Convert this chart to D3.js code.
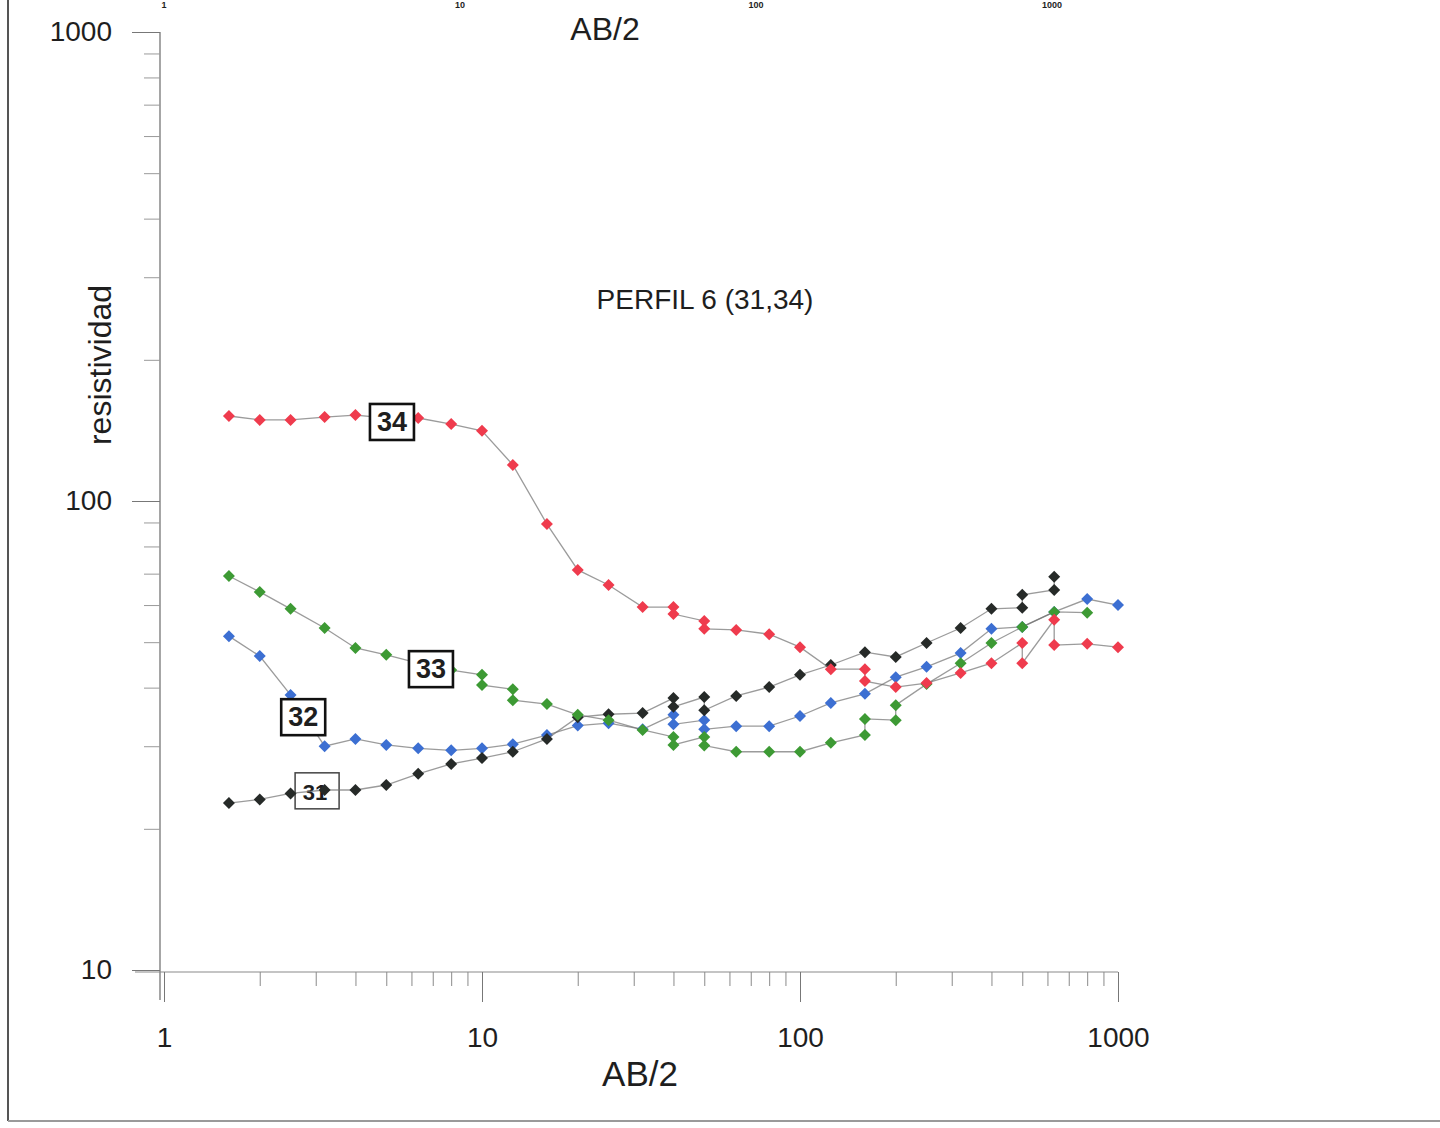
<!DOCTYPE html>
<html>
<head>
<meta charset="utf-8">
<script src="https://cdn.jsdelivr.net/npm/d3@7"></script>
<style>
  body { margin: 0; background: #fff; }
  svg text { font-family: "Liberation Sans", Arial, sans-serif; fill: #1e1e1e; }
</style>
</head>
<body>
<svg id="chart" width="1440" height="1128"></svg>
<script>
// AB/2 positions used by each sounding (duplicates = overlap readings)
const ab31 = [1.6, 2, 2.5, 3.2, 4, 5, 6.3, 8, 10, 12.5, 16, 20, 25, 32, 40, 40, 50, 50, 63, 80, 100, 125, 160, 200, 250, 320, 400, 500, 500, 630, 630];
const rho31 = [22.7, 23.1, 23.8, 24.2, 24.2, 24.8, 26.2, 27.5, 28.3, 29.2, 31.1, 34.6, 35.1, 35.3, 38.0, 36.4, 38.2, 35.8, 38.4, 40.1, 42.6, 44.7, 47.6, 46.5, 49.8, 53.6, 58.9, 59.2, 63.1, 64.6, 68.9];

const ab32 = [1.6, 2, 2.5, 3.2, 4, 5, 6.3, 8, 10, 12.5, 16, 20, 25, 32, 40, 40, 50, 50, 63, 80, 100, 125, 160, 200, 250, 320, 400, 500, 630, 800, 1000];
const rho32 = [51.5, 46.7, 38.6, 30.0, 31.1, 30.2, 29.7, 29.4, 29.7, 30.3, 31.7, 33.2, 33.6, 32.6, 35.0, 33.4, 34.1, 32.6, 33.1, 33.1, 34.8, 37.1, 38.8, 42.1, 44.3, 47.4, 53.4, 53.9, 58.0, 61.8, 60.0];

const ab33 = [1.6, 2, 2.5, 3.2, 4, 5, 6.3, 8, 10, 10, 12.5, 12.5, 16, 20, 25, 32, 40, 40, 50, 50, 63, 80, 100, 125, 160, 160, 200, 200, 250, 320, 400, 500, 630, 800];
const rho33 = [69.2, 64.0, 58.9, 53.6, 48.6, 47.0, 45.1, 43.6, 42.6, 40.5, 39.7, 37.6, 36.9, 35.0, 34.1, 32.5, 31.4, 30.2, 31.4, 30.1, 29.2, 29.2, 29.2, 30.5, 31.7, 34.3, 34.1, 36.7, 40.7, 45.1, 49.8, 53.9, 58.0, 57.8];

const ab34 = [1.6, 2, 2.5, 3.2, 4, 5, 6.3, 8, 10, 12.5, 16, 20, 25, 32, 40, 40, 50, 50, 63, 80, 100, 125, 160, 160, 200, 250, 320, 400, 500, 500, 630, 630, 800, 1000];
const rho34 = [151.8, 148.9, 148.9, 151.0, 152.5, 150.3, 150.3, 145.9, 141.1, 119.4, 89.3, 71.3, 66.2, 59.4, 59.4, 57.4, 55.5, 53.4, 53.1, 52.0, 48.8, 43.8, 43.8, 41.3, 40.1, 40.9, 43.0, 45.1, 49.8, 45.1, 55.8, 49.3, 49.6, 48.8];

const seriesNames = ["32", "31", "33", "34"];
const seriesColors = { "31": "#262a28", "32": "#3c6fd2", "33": "#3d9a34", "34": "#ef3b4d" };

// label boxes anchored in data coordinates (AB/2, resistividad)
const labelNames = ["34", "33", "32", "31"];
const labelAb = [5.21, 6.91, 2.74, 3.03];
const labelRho = [147.4, 43.8, 34.6, 24.1];

const xMajor = [1, 10, 100, 1000];
const yMajor = [10, 100, 1000];

const svg = d3.select("#chart");

const x = d3.scaleLog().domain([1, 1000]).range([164, 1118]);
const y = d3.scaleLog().domain([10, 1000]).range([970, 32]);

const minorOf = ext => {
  const out = [];
  for (let d = ext[0]; d < ext[1]; d *= 10)
    for (let k = 2; k <= 9; k++) out.push(d * k);
  return out;
};

// scan frame
svg.append("line").attr("x1", 8).attr("x2", 8).attr("y1", 0).attr("y2", 1121)
  .attr("stroke", "#555").attr("stroke-width", 2);
svg.append("line").attr("x1", 8).attr("x2", 1440).attr("y1", 1121).attr("y2", 1121)
  .attr("stroke", "#9a9a9a").attr("stroke-width", 2);

// ghost top axis (mostly cut off by the scan)
svg.append("g").selectAll("text").data(xMajor).join("text")
  .attr("x", (d, i) => 164 + i * 296).attr("y", 8)
  .attr("text-anchor", "middle").attr("font-size", 9).attr("font-weight", "bold")
  .text(d => d);

// y axis
const gy = svg.append("g").attr("transform", "translate(160,0)");
gy.append("line").attr("x1", 0).attr("x2", 0).attr("y1", y(1000)).attr("y2", 1000)
  .attr("stroke", "#6a6a6a").attr("stroke-width", 1.2);
gy.append("g")
  .call(d3.axisLeft(y).tickValues(minorOf([10, 1000])).tickSize(16).tickFormat(""))
  .call(g => g.select(".domain").remove())
  .call(g => g.selectAll("line").attr("stroke", "#9a9a9a"));
gy.append("g")
  .call(d3.axisLeft(y).tickValues(yMajor).tickSize(28).tickPadding(20).tickFormat(d3.format("d")))
  .call(g => g.select(".domain").remove())
  .call(g => g.selectAll("line").attr("stroke", "#777"))
  .call(g => g.selectAll("text").attr("font-size", 28).attr("font-family", "Liberation Sans, Arial, sans-serif").attr("fill", "#1e1e1e"));

// x axis
const gx = svg.append("g").attr("transform", "translate(0,972)");
gx.append("line").attr("x1", 135).attr("x2", x(1000)).attr("y1", 0).attr("y2", 0)
  .attr("stroke", "#8a8a8a").attr("stroke-width", 1.2);
gx.append("g")
  .call(d3.axisBottom(x).tickValues(minorOf([1, 1000])).tickSize(14).tickFormat(""))
  .call(g => g.select(".domain").remove())
  .call(g => g.selectAll("line").attr("stroke", "#8a8a8a"));
gx.append("g")
  .call(d3.axisBottom(x).tickValues(xMajor).tickSize(30).tickPadding(25).tickFormat(d3.format("d")))
  .call(g => g.select(".domain").remove())
  .call(g => g.selectAll("line").attr("stroke", "#777"))
  .call(g => g.selectAll("text").attr("font-size", 28).attr("font-family", "Liberation Sans, Arial, sans-serif").attr("fill", "#1e1e1e"));

// titles
svg.append("text").attr("x", 605).attr("y", 40).attr("text-anchor", "middle")
  .attr("font-size", 32).text("AB/2");
svg.append("text").attr("x", 640).attr("y", 1086).attr("text-anchor", "middle")
  .attr("font-size", 35).text("AB/2");
svg.append("text").attr("x", 705).attr("y", 309).attr("text-anchor", "middle")
  .attr("font-size", 28).text("PERFIL 6 (31,34)");
svg.append("text").attr("transform", "translate(111,365) rotate(-90)")
  .attr("text-anchor", "middle").attr("font-size", 32).text("resistividad");

const abBy = { "31": ab31, "32": ab32, "33": ab33, "34": ab34 };
const rhoBy = { "31": rho31, "32": rho32, "33": rho33, "34": rho34 };

const drawBox = (name, i) => {
  const cx = x(labelAb[i]), cy = y(labelRho[i]);
  const thin = name === "31";
  const g = svg.append("g");
  g.append("rect")
    .attr("x", cx - 22).attr("y", cy - 18).attr("width", 44).attr("height", 36)
    .attr("fill", "#fff").attr("stroke", thin ? "#444" : "#111").attr("stroke-width", thin ? 1.5 : 2.6);
  g.append("text").attr("x", thin ? cx - 2 : cx).attr("y", cy + 9).attr("text-anchor", "middle")
    .attr("font-size", thin ? 22 : 27).attr("font-weight", "bold").text(name);
};

// box 31 sits under its markers
drawBox("31", 3);

const line = d3.line().x(d => x(d[0])).y(d => y(d[1]));
const marker = d3.symbol().type(d3.symbolSquare).size(72);

seriesNames.forEach(name => {
  const pts = d3.zip(abBy[name], rhoBy[name]);
  const g = svg.append("g");
  g.append("path").datum(pts).attr("d", line)
    .attr("fill", "none").attr("stroke", "#707070").attr("stroke-width", 1.3).attr("opacity", 0.7);
  g.selectAll("path.pt").data(pts).join("path").attr("class", "pt")
    .attr("d", marker)
    .attr("transform", d => `translate(${x(d[0])},${y(d[1])}) rotate(45)`)
    .attr("fill", seriesColors[name]);
});

labelNames.forEach((name, i) => { if (name !== "31") drawBox(name, i); });
</script>
</body>
</html>
